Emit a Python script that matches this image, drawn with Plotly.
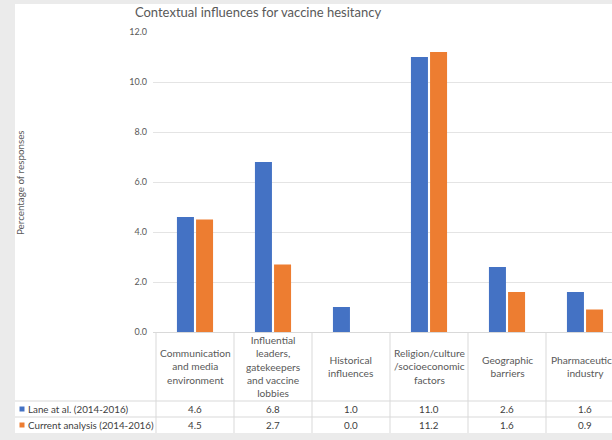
import plotly.graph_objects as go

# ---- data ----
categories = ["Communication<br>and media<br>environment",
              "Influential<br>leaders,<br>gatekeepers<br>and vaccine<br>lobbies",
              "Historical<br>influences",
              "Religion/culture<br>/socioeconomic<br>factors",
              "Geographic<br>barriers",
              "Pharmaceutical<br>industry"]
series_names = ["Lane at al. (2014-2016)", "Current analysis (2014-2016)"]
lane_values = [4.6, 6.8, 1.0, 11.0, 2.6, 1.6]
current_values = [4.5, 2.7, 0.0, 11.2, 1.6, 0.9]
y_ticks = [0, 2, 4, 6, 8, 10, 12]

colors = ["#4472C4", "#ED7D31"]
W, H = 612, 440
ML, MR, MT, MB = 153, 0, 32, 108
PW, PH = W - ML - MR, H - MT - MB
COL = 78.0  # pixel width of one category column
x_left = -0.5 - 3 / COL
x_right = x_left + PW / COL

def py(Y):  # pixel y -> paper y
    return (MT + PH - Y) / PH

def px(X):  # pixel x -> paper x
    return (X - ML) / PW

idx = list(range(len(categories)))
fig = go.Figure()
for name, vals, c in zip(series_names, [lane_values, current_values], colors):
    fig.add_trace(go.Bar(x=idx, y=vals, name=name, marker=dict(color=c, line=dict(width=0))))

font_fam = "Lato, Carlito, Calibri, 'Liberation Sans', sans-serif"
grey_txt = "#595959"
line_c = "#d9d9d9"

shapes = []
# white chart area over the grey frame
shapes.append(dict(type="rect", xref="paper", yref="paper", x0=px(15), x1=px(W + 5),
                   y0=py(433), y1=py(4), fillcolor="white", line=dict(width=0), layer="below"))
# table vertical lines
for i in range(len(categories) + 1):
    shapes.append(dict(type="line", xref="x", yref="paper", x0=i - 0.5, x1=i - 0.5,
                       y0=py(332), y1=py(433), line=dict(color=line_c, width=1)))
# table horizontal lines
for Y in [401, 417]:
    shapes.append(dict(type="line", xref="paper", yref="paper", x0=px(15), x1=1,
                       y0=py(Y), y1=py(Y), line=dict(color=line_c, width=1)))
# legend keys
for Yc, c in zip([409, 425], colors):
    shapes.append(dict(type="rect", xref="paper", yref="paper", x0=px(19.5), x1=px(24.5),
                       y0=py(Yc + 2.5), y1=py(Yc - 2.5), fillcolor=c, line=dict(width=0)))

annotations = []
for i, cat in enumerate(categories):
    annotations.append(dict(x=i, y=py(366), xref="x", yref="paper", text=cat, showarrow=False,
                            xanchor="center", yanchor="middle",
                            font=dict(family=font_fam, size=10.2, color=grey_txt)))
for Yc, name, vals in zip([409, 425], series_names, [lane_values, current_values]):
    annotations.append(dict(x=px(26), y=py(Yc), xref="paper", yref="paper", text=name,
                            showarrow=False, xanchor="left", yanchor="middle",
                            font=dict(family=font_fam, size=9.8, color="#404040")))
    for i, v in enumerate(vals):
        annotations.append(dict(x=i, y=py(Yc), xref="x", yref="paper", text=f"{v:.1f}",
                                showarrow=False, xanchor="center", yanchor="middle",
                                font=dict(family=font_fam, size=9.8, color="#404040")))
annotations.append(dict(x=px(20), y=py(183), xref="paper", yref="paper",
                        text="Percentage of responses", textangle=-90, showarrow=False,
                        xanchor="center", yanchor="middle",
                        font=dict(family=font_fam, size=9.8, color=grey_txt)))

fig.update_layout(
    width=W, height=H,
    margin=dict(l=ML, r=MR, t=MT, b=MB, pad=0),
    paper_bgcolor="#ebebeb", plot_bgcolor="white",
    barmode="group", bargap=0.51, bargroupgap=0.11,
    showlegend=False,
    title=dict(text="Contextual influences for vaccine hesitancy", x=258 / W, xanchor="center",
               y=1 - 12 / H, yanchor="middle", font=dict(family=font_fam, size=13, color=grey_txt)),
    xaxis=dict(range=[x_left, x_right], showticklabels=False, showgrid=False, zeroline=False,
               showline=False, ticks=""),
    yaxis=dict(range=[0, 12], tickvals=y_ticks, tickformat=".1f", showgrid=True, gridcolor="#e4e4e4",
               gridwidth=1, zeroline=True, zerolinecolor="#d9d9d9", zerolinewidth=1, showline=False,
               ticks="", ticklabelstandoff=5, tickfont=dict(family=font_fam, size=9, color=grey_txt)),
    shapes=shapes, annotations=annotations,
)
fig.write_html("out.html", config={"displayModeBar": False},
               post_script="document.body.style.margin='0';document.body.style.overflow='hidden';")
